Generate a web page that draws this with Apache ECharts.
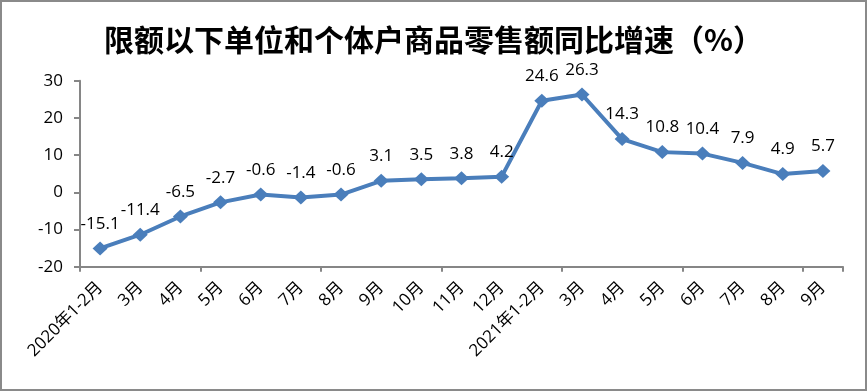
<!DOCTYPE html>
<html><head><meta charset="utf-8">
<script src="https://cdn.jsdelivr.net/npm/echarts@6/dist/echarts.min.js"></script>
<style>html,body{margin:0;padding:0;background:#fff}#c{width:867px;height:391px}</style>
</head><body><div id="c"></div>
<script>
var titleText = '限额以下单位和个体户商品零售额同比增速（%）';
var categories = ['2020年1-2月','3月','4月','5月','6月','7月','8月','9月','10月','11月','12月',
  '2021年1-2月','3月','4月','5月','6月','7月','8月','9月'];
var growth = [-15.1,-11.4,-6.5,-2.7,-0.6,-1.4,-0.6,3.1,3.5,3.8,4.2,24.6,26.3,14.3,10.8,10.4,7.9,4.9,5.7];
var yTicks = [-20,-10,0,10,20,30];

var chart = echarts.init(document.getElementById('c'), null, {renderer:'canvas'});
var axisGray = '#868686';
chart.setOption({
  animation:false,
  backgroundColor:'#fff',
  title:{text:titleText,left:'center',top:20,
    textStyle:{fontFamily:'Noto Sans CJK SC',fontSize:30,fontWeight:600,color:'#000'}},
  graphic:[{type:'rect',shape:{x:1,y:1,width:865,height:389},
    style:{fill:'none',stroke:'#8a8a8a',lineWidth:2},silent:true}],
  grid:{left:80,right:24,top:80.7,bottom:124.3,containLabel:false},
  xAxis:[{
    type:'category',data:categories,boundaryGap:true,position:'bottom',
    axisLine:{show:false},axisTick:{show:false},
    axisLabel:{rotate:45,interval:0,margin:18,fontSize:17,color:'#000',
      fontFamily:'Open Sans, Noto Sans CJK SC'}
  },{
    type:'category',data:categories,boundaryGap:true,position:'bottom',
    axisLine:{show:true,onZero:true,lineStyle:{color:axisGray,width:2}},
    axisTick:{show:true,length:5,alignWithLabel:false,lineStyle:{color:axisGray,width:2}},
    axisLabel:{show:false}
  }],
  yAxis:{
    type:'value',min:yTicks[0],max:yTicks[yTicks.length-1],interval:10,
    axisLine:{show:true,lineStyle:{color:axisGray,width:2}},
    axisTick:{show:true,length:6,lineStyle:{color:axisGray,width:2}},
    splitLine:{show:false},
    axisLabel:{fontSize:17,color:'#000',margin:17,fontFamily:'Open Sans'}
  },
  series:[{
    type:'line',data:growth,xAxisIndex:0,
    lineStyle:{color:'#4a7ebb',width:4},
    itemStyle:{color:'#4a7ebb'},
    symbol:'diamond',symbolSize:[15,14],
    label:{show:true,position:'top',distance:9,fontSize:17,color:'#000',
      fontFamily:'Open Sans'}
  }]
});
</script></body></html>
